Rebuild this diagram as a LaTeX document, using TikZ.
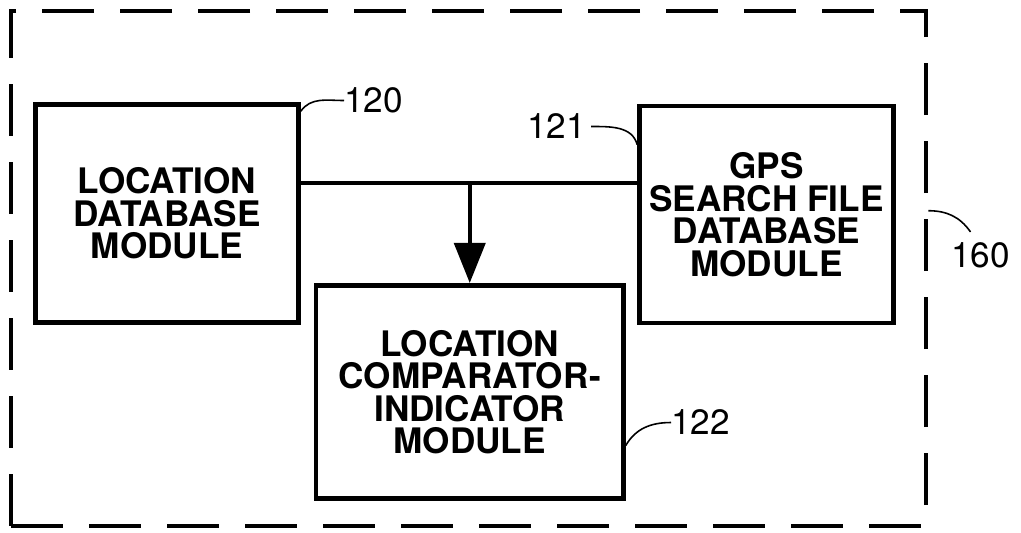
\documentclass[tikz,border=0pt]{standalone}
\usepackage{fontspec}
\setmainfont{TeX Gyre Heros}
\usetikzlibrary{
	arrows.meta,
	calc,
	positioning,
}
\tikzset{box/.style={draw,rectangle,line width=2.6pt,inner sep=0mm,align=center,font=\bfseries\fontsize{20pt}{18.5pt}\selectfont,}}
\tikzset{outer/.style={draw,rectangle,dash pattern=on 1.04cm off 0.52cm,line width=2.6pt,inner sep=0mm,}}
\tikzset{ref/.style={draw=none,inner sep=0mm,font=\fontsize{20pt}{20pt}\selectfont,}}
\tikzset{lead/.style={line width=0.9pt}}
\tikzset{
	>={Triangle[length=8mm,width=6.2mm]},
	line join=round,
}

\begin{document}
\begin{tikzpicture}
\useasboundingbox (0,0) rectangle (20.42,-10.64);

\node[outer,minimum width=18.3cm,minimum height=10.3cm](sys) at(9.37,-5.37) {};

\node[box,minimum width=5.26cm,minimum height=4.36cm](locdb) at(3.34,-4.27) {LOCATION\\DATABASE\\MODULE};
\node[box,minimum width=5.08cm,minimum height=4.34cm](gpsdb) at(15.33,-4.29) {GPS\\SEARCH FILE\\DATABASE\\MODULE};
\node[box,minimum width=6.15cm,minimum height=4.27cm](comp) at(9.395,-7.84) {LOCATION\\COMPARATOR-\\INDICATOR\\MODULE};

\coordinate(tap) at(9.395,-3.66);

\node[ref,anchor=west](n120) at(6.88,-2.01) {120};
\node[ref,anchor=east](n121) at(11.72,-2.53) {121};
\node[ref,anchor=west](n122) at(13.42,-8.45) {122};
\node[ref](n160) at(19.61,-5.1) {160};

\draw[line width=2.2pt] (locdb.east |- tap) -- (gpsdb.west |- tap);
\draw[line width=2.2pt,->] (tap) -- (comp.north);

\draw[lead] ($(locdb.north east)+(0,-0.18)$) to[out=55,in=180] (n120.west);
\draw[lead] ([xshift=1mm]n121.east) to[out=0,in=105] ($(gpsdb.north west)+(0,-0.82)$);
\draw[lead] ($(comp.north east)+(0,-3.25)$) to[out=60,in=180] (n122.west);
\draw[lead] ($(sys.north east)+(0,-4.04)$) to[out=0,in=125] ($(n160.north)+(-0.2,0.2)$);

\end{tikzpicture}
\end{document}
